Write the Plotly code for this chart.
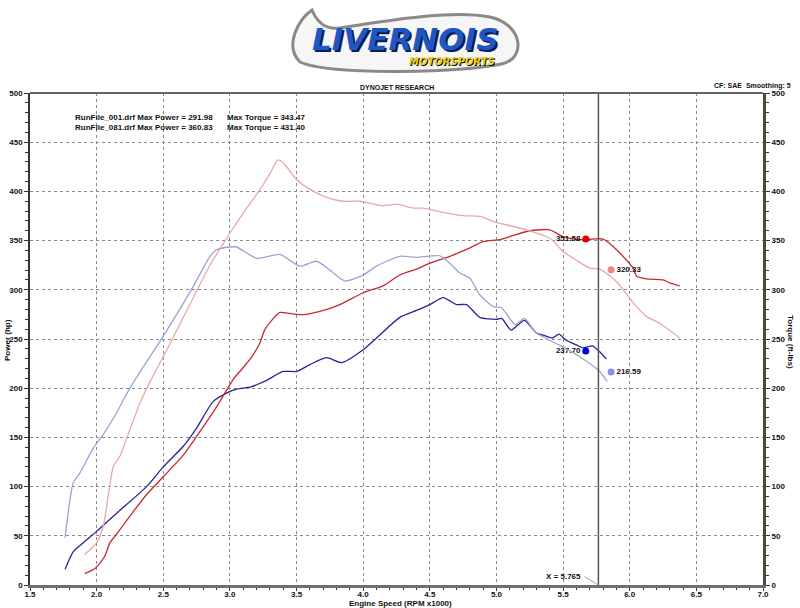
import plotly.graph_objects as go

# ---------------- data ----------------
rpm_power_001 = [1.763, 1.825, 1.9, 2.0, 2.15, 2.375, 2.5, 2.65, 2.75, 2.875, 2.975, 3.05, 3.15, 3.2, 3.275,
                 3.4, 3.5, 3.6, 3.725, 3.84, 4.0, 4.1, 4.275, 4.4, 4.5, 4.6, 4.7, 4.775, 4.875, 5.0, 5.04,
                 5.11, 5.21, 5.3, 5.35, 5.42, 5.47, 5.52, 5.6, 5.65, 5.72, 5.775, 5.825]
power_001 = [16, 34, 43, 54.5, 73, 100, 120, 141, 159.5, 186.6, 195, 199, 201, 203.5, 208,
             217, 217, 224, 231, 226, 239, 251, 272, 279, 285, 292, 285, 285, 272, 270, 271,
             259, 269, 256, 254, 251, 255, 249, 244, 241, 243, 237, 229.5]

rpm_power_081 = [1.91, 1.99, 2.06, 2.1, 2.14, 2.25, 2.375, 2.5, 2.65, 2.75, 2.9, 2.975, 3.025, 3.1, 3.16,
                 3.225, 3.26, 3.32, 3.375, 3.45, 3.55, 3.675, 3.825, 4.0, 4.15, 4.275, 4.4, 4.5, 4.65,
                 4.775, 4.9, 5.025, 5.12, 5.25, 5.4, 5.5, 5.625, 5.725, 5.8, 5.9, 6.025, 6.05, 6.125,
                 6.25, 6.3, 6.375]
power_081 = [11.5, 17, 29, 43, 50, 70, 92, 110, 132, 151, 181, 198, 209, 221, 231,
             246, 259, 270, 277, 276, 274.7, 278, 285, 297, 304, 315, 321, 327, 334,
             341, 349, 351, 355, 360, 361, 354, 351, 351.6, 351.6, 341, 322, 314, 311,
             310, 307, 304]

rpm_torque_001 = [1.763, 1.8, 1.825, 1.875, 1.975, 2.05, 2.15, 2.2, 2.29, 2.5, 2.725, 2.85, 2.9, 3.0, 3.05,
                  3.2, 3.375, 3.525, 3.65, 3.75, 3.86, 4.0, 4.1, 4.275, 4.4, 4.575, 4.65, 4.725, 4.8,
                  4.875, 4.975, 5.04, 5.14, 5.21, 5.3, 5.475, 5.625, 5.775, 5.83]
torque_001 = [48, 87, 104, 114, 139, 153, 175, 188, 209, 253, 303.5, 334, 340.7, 343.5, 343.5,
              332, 336, 324, 329, 320, 309, 315, 324, 334, 333, 334.6, 327, 317, 312,
              295, 283, 281.5, 264.5, 271, 256, 243.5, 232, 217, 207]

rpm_torque_081 = [1.91, 2.0, 2.05, 2.09, 2.125, 2.175, 2.25, 2.325, 2.41, 2.5, 2.725, 2.85, 2.95, 3.0, 3.1,
                  3.225, 3.3, 3.36, 3.4, 3.5, 3.6, 3.725, 3.85, 3.975, 4.15, 4.25, 4.375, 4.45, 4.6,
                  4.75, 4.875, 5.0, 5.225, 5.4, 5.5, 5.6, 5.7, 5.775, 5.9, 6.025, 6.125, 6.225, 6.375]
torque_081 = [31, 43, 60, 93.5, 120.5, 131, 158, 185, 209, 232, 292, 325, 347, 357.7, 378,
              401.7, 418, 432, 429, 412, 402, 394, 390, 390, 385.5, 387, 383, 383, 378.7,
              375.3, 374.6, 368.5, 361, 352.6, 339, 330, 322, 321, 308.5, 287, 273, 266, 251]

cursor_x = 5.765
cursor_marker_x = [5.67, 5.86, 5.67, 5.86]
cursor_values = [351.58, 320.33, 237.70, 216.59]
cursor_labels = ["351.58", "320.33", "237.70", "216.59"]

legend_lines = [("RunFile_001.drf Max Power = 291.98", "Max Torque = 343.47"),
                ("RunFile_081.drf Max Power = 360.83", "Max Torque = 431.40")]

x_ticks = [1.5, 2.0, 2.5, 3.0, 3.5, 4.0, 4.5, 5.0, 5.5, 6.0, 6.5, 7.0]
y_ticks = list(range(0, 501, 50))

# ---------------- styling ----------------
C_P001 = "#24249c"
C_P081 = "#c62a32"
C_T001 = "#a0a0d8"
C_T081 = "#e8a8a8"
FONT = "Liberation Sans"
LOGO_FONT = "DejaVu Sans"

L, R, T, B = 30, 37, 93, 23
W, H = 800, 608
PW, PH = W - L - R, H - T - B


def px(xp):
    return (xp - L) / PW


def py(yp):
    return (H - B - yp) / PH


def txt(size=8):
    return dict(family=FONT, size=size, color="#111", weight="bold")


fig = go.Figure()
fig.add_trace(go.Scatter(x=rpm_torque_001, y=torque_001, mode="lines", yaxis="y2",
                         line=dict(color=C_T001, width=1.3, shape="spline", smoothing=0.6), name="Torque 001"))
fig.add_trace(go.Scatter(x=rpm_torque_081, y=torque_081, mode="lines", yaxis="y2",
                         line=dict(color=C_T081, width=1.3, shape="spline", smoothing=0.6), name="Torque 081"))
fig.add_trace(go.Scatter(x=rpm_power_001, y=power_001, mode="lines",
                         line=dict(color=C_P001, width=1.3, shape="spline", smoothing=0.6), name="Power 001"))
fig.add_trace(go.Scatter(x=rpm_power_081, y=power_081, mode="lines",
                         line=dict(color=C_P081, width=1.3, shape="spline", smoothing=0.6), name="Power 081"))

marker_colors = ["#e00000", "#f08484", "#0000d8", "#8c8cec"]
text_pos = ["middle left", "middle right", "middle left", "middle right"]
for i in range(4):
    fig.add_trace(go.Scatter(x=[cursor_marker_x[i]], y=[cursor_values[i]], mode="markers+text",
                             marker=dict(color=marker_colors[i], size=7),
                             text=[cursor_labels[i]], textposition=text_pos[i],
                             textfont=txt(8)))

shapes = [
    dict(type="line", xref="x", yref="y", x0=cursor_x, x1=cursor_x, y0=0, y1=500,
         line=dict(color="#555", width=1.5)),
    dict(type="line", xref="x", yref="y", x0=5.66, x1=cursor_x, y0=8.5, y1=0,
         line=dict(color="#d49090", width=1)),
    dict(type="line", xref="paper", yref="paper", x0=0, x1=1, y0=1, y1=1,
         line=dict(color="#666", width=2)),
]

# logo swoosh (pixel coordinates converted to paper)
swoosh = [("M", [(312, 10)]),
          ("C", [(298, 20), (284, 46), (300, 62)]),
          ("C", [(330, 76), (470, 73), (505, 63)]),
          ("C", [(526, 56), (522, 24), (490, 17)]),
          ("C", [(450, 9), (380, 22), (340, 28)]),
          ("C", [(325, 30), (317, 22), (312, 10)])]
path = " ".join(cmd + " " + " ".join(f"{px(a):.4f},{py(b):.4f}" for a, b in p) for cmd, p in swoosh) + " Z"
shapes.append(dict(type="path", xref="paper", yref="paper", path=path,
                   fillcolor="#f6f6f6", line=dict(color="#8a8a8a", width=3)))


def pann(xp, yp, text, font, xanchor="center", **kw):
    return dict(x=px(xp), y=py(yp), xref="paper", yref="paper", text=text, showarrow=False,
                xanchor=xanchor, yanchor="middle", font=font, **kw)


ann = []
ann.append(pann(405, 39, "LIVERNOIS",
                dict(family=LOGO_FONT, size=31, color="#1f56c4", weight="bold", style="italic",
                     shadow="2px 2px 0px #0b1c55")))
ann.append(pann(452, 61, "MOTORSPORTS",
                dict(family=LOGO_FONT, size=10, color="#f2d21a", weight="bold", style="italic",
                     shadow="1px 1px 0px #000")))
ann.append(pann(397, 87, "DYNOJET RESEARCH", txt(7)))
ann.append(pann(793, 86, "CF: SAE  Smoothing: 5", txt(7), xanchor="right"))
for k, (a, b) in enumerate(legend_lines):
    yy = 117 + 10 * k
    ann.append(pann(73, yy, a, txt(8), xanchor="left"))
    ann.append(pann(225, yy, b, txt(8), xanchor="left"))
ann.append(dict(x=5.5, y=8.5, xref="x", yref="y", text="X = 5.765", showarrow=False,
                xanchor="center", yanchor="middle", font=txt(8)))
ann.append(pann(400, 603.5, "Engine Speed (RPM x1000)", txt(8)))
ann.append(pann(7, 340, "Power (hp)", txt(8), textangle=-90))
ann.append(pann(791, 342, "Torque (ft-lbs)", txt(8), textangle=90))

tickfont = txt(8)
fig.update_layout(
    width=W, height=H, margin=dict(l=L, r=R, t=T, b=B, autoexpand=False),
    paper_bgcolor="white", plot_bgcolor="white", showlegend=False,
    shapes=shapes, annotations=ann,
    xaxis=dict(range=[1.5, 7.0], tickvals=x_ticks, ticktext=[f"{v:.1f}" for v in x_ticks],
               showgrid=True, gridcolor="#8a8a8a", griddash="dot", gridwidth=1,
               showline=True, linecolor="#6e6e6e", linewidth=3, ticks="outside", ticklen=3,
               tickcolor="#333", tickfont=tickfont, zeroline=False, automargin=False,
               ticklabelstandoff=-4,
               minor=dict(dtick=0.1, tick0=1.5, ticks="outside", ticklen=2, tickcolor="#333", showgrid=False)),
    yaxis=dict(range=[0, 500], tickvals=y_ticks, showgrid=True, gridcolor="#8a8a8a", griddash="dot",
               gridwidth=1, showline=True, linecolor="#333", linewidth=1.5, ticks="outside", ticklen=4,
               tickcolor="#333", tickfont=tickfont, zeroline=False, automargin=False,
               minor=dict(dtick=10, ticks="outside", ticklen=3, tickcolor="#333", showgrid=False)),
    yaxis2=dict(range=[0, 500], tickvals=y_ticks, overlaying="y", side="right", showgrid=False,
                showline=True, linecolor="#4a4a38", linewidth=3, ticks="outside", ticklen=4,
                tickcolor="#333", tickfont=tickfont, zeroline=False, automargin=False,
                minor=dict(dtick=10, ticks="outside", ticklen=3, tickcolor="#333")),
)

fig.write_html("out.html", config={"displayModeBar": False},
               post_script="document.body.style.margin='0px';")
